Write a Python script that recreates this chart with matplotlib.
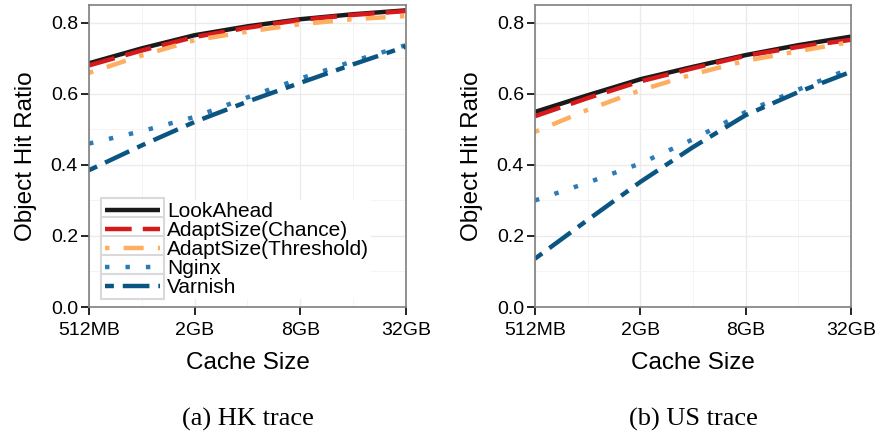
import matplotlib
matplotlib.use("Agg")
import matplotlib.pyplot as plt
from matplotlib.legend_handler import HandlerLine2D
from matplotlib.patches import Rectangle
import numpy as np

cache_sizes = ["512MB", "1GB", "2GB", "4GB", "8GB", "16GB", "32GB"]
major_labels = ["512MB", "2GB", "8GB", "32GB"]

hk_lookahead = [0.686, 0.728, 0.765, 0.790, 0.810, 0.824, 0.835]
hk_chance = [0.680, 0.722, 0.760, 0.786, 0.808, 0.822, 0.833]
hk_threshold = [0.659, 0.708, 0.751, 0.775, 0.796, 0.810, 0.819]
hk_nginx = [0.460, 0.495, 0.535, 0.590, 0.643, 0.692, 0.737]
hk_varnish = [0.385, 0.455, 0.521, 0.578, 0.631, 0.683, 0.733]

us_lookahead = [0.549, 0.596, 0.641, 0.676, 0.709, 0.737, 0.761]
us_chance = [0.537, 0.588, 0.635, 0.672, 0.707, 0.732, 0.752]
us_threshold = [0.493, 0.555, 0.610, 0.655, 0.693, 0.720, 0.746]
us_nginx = [0.300, 0.350, 0.404, 0.472, 0.549, 0.612, 0.672]
us_varnish = [0.136, 0.245, 0.352, 0.450, 0.540, 0.605, 0.662]

series_names = ["LookAhead", "AdaptSize(Chance)", "AdaptSize(Threshold)", "Nginx", "Varnish"]
colors = ["#1a1a1a", "#d7191c", "#fdae61", "#2c7bb6", "#0b5583"]
dashes = [None, (6, 2.5), (1, 3.2, 4.5, 3.2), (1, 3.6), (2, 2, 6, 2)]

plt.rcParams['font.family'] = ['Liberation Sans', 'DejaVu Sans']


class BoxedLine(HandlerLine2D):
    def create_artists(self, legend, orig_handle, xdescent, ydescent, width, height, fontsize, trans):
        pad_y = 0.25 * fontsize
        rect = Rectangle((-xdescent - 3, -ydescent - pad_y), width + 6, height + 2 * pad_y,
                         facecolor='white', edgecolor='#d9d9d9', lw=1.5, transform=trans)
        arts = super().create_artists(legend, orig_handle, xdescent, ydescent, width, height, fontsize, trans)
        return [rect] + list(arts)


fig = plt.figure(figsize=(8.79, 4.33), dpi=100)
W, H = 879, 433


def make_ax(left, right, top, bottom):
    return fig.add_axes([left / W, 1 - bottom / H, (right - left) / W, (bottom - top) / H])


ax1 = make_ax(89, 406, 5, 307)
ax2 = make_ax(535, 851, 5, 307)

x = np.arange(len(cache_sizes))
for ax, data, cap in [(ax1, [hk_lookahead, hk_chance, hk_threshold, hk_nginx, hk_varnish], "(a) HK trace"),
                      (ax2, [us_lookahead, us_chance, us_threshold, us_nginx, us_varnish], "(b) US trace")]:
    lines = []
    for name, vals, c, d in zip(series_names, data, colors, dashes):
        ln, = ax.plot(x, vals, color=c, lw=3.2, label=name, solid_capstyle='butt', dash_capstyle='butt')
        if d is not None:
            ln.set_dashes(d)
        lines.append(ln)
    ax.set_xlim(0, len(cache_sizes) - 1)
    ax.set_ylim(0, 0.85)
    ax.set_xticks([0, 2, 4, 6])
    ax.set_xticklabels(major_labels)
    ax.set_xticks([1, 3, 5], minor=True)
    ax.set_yticks([0.0, 0.2, 0.4, 0.6, 0.8])
    ax.set_yticklabels(["0.0", "0.2", "0.4", "0.6", "0.8"])
    ax.set_yticks([0.1, 0.3, 0.5, 0.7], minor=True)
    ax.grid(which='major', color='#ebebeb', lw=1.0)
    ax.grid(which='minor', color='#f4f4f4', lw=0.7)
    ax.set_axisbelow(True)
    for s in ax.spines.values():
        s.set_color('#7f7f7f')
        s.set_linewidth(1.2)
    ax.tick_params(which='major', direction='out', length=5.5, width=1.2, color='black',
                   labelsize=14, pad=2.5)
    ax.tick_params(axis='x', which='major', pad=5.5)
    ax.tick_params(which='minor', length=0)
    ax.set_xlabel("Cache Size", fontsize=17.5, labelpad=9)
    ax.set_ylabel("Object Hit Ratio", fontsize=17.5, labelpad=10)
    ax.text(0.5, -0.335, cap, transform=ax.transAxes, ha='center', va='top',
            fontsize=19, family=['Liberation Serif', 'DejaVu Serif'])
    if ax is ax1:
        leg = ax.legend(handles=lines, loc='lower left', bbox_to_anchor=(0.045, 0.025),
                        fontsize=15, frameon=True, fancybox=False, edgecolor='white',
                        framealpha=1, handlelength=2.6, labelspacing=0.0, borderpad=0.1,
                        handletextpad=0.35, borderaxespad=0,
                        handler_map={matplotlib.lines.Line2D: BoxedLine()})
        leg.get_frame().set_linewidth(0)

fig.savefig("out.png", dpi=100)
